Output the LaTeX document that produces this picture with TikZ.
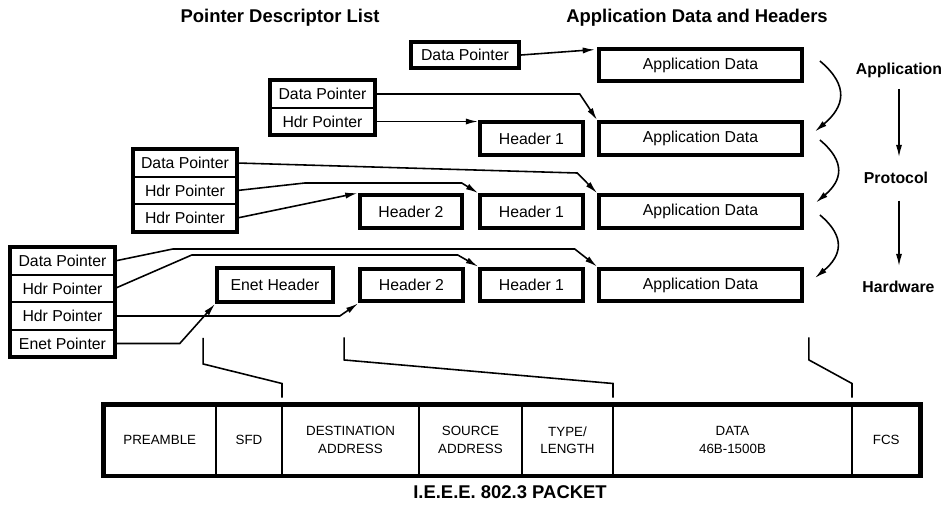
\documentclass[tikz,border=0pt]{standalone}
\usepackage{fontspec}
\setmainfont{Liberation Sans}
\usetikzlibrary{positioning,fit,calc,arrows.meta}

\begin{document}
\begin{tikzpicture}[
    box/.style={draw, line width=2.5pt, minimum height=0.65cm, inner sep=0pt,
      font=\fontsize{9}{11}\selectfont},
    ptrcell/.style={draw, line width=1.1pt, minimum width=2.09cm, minimum height=0.55cm,
      inner sep=0pt, outer sep=0pt, font=\fontsize{9}{11}\selectfont},
    listframe/.style={draw, line width=2.5pt, inner sep=0pt},
    pktfield/.style={draw, line width=1.3pt, minimum height=1.43cm, inner sep=0pt,
      outer sep=0pt, align=center, font=\fontsize{7.6}{10.2}\selectfont},
    heading/.style={font=\bfseries\fontsize{10.5}{12}\selectfont},
    layername/.style={font=\bfseries\fontsize{9}{11}\selectfont},
    ptr/.style={-{Latex[length=7pt,width=3.5pt]}, line width=0.9pt},
    brk/.style={line width=0.9pt}
  ]
  \useasboundingbox (0,0) rectangle (18.9,-10.12);

  \node[heading] (ttlptr) at (5.6,-0.36) {Pointer Descriptor List};
  \node[heading] (ttlapp) at (13.94,-0.36) {Application Data and Headers};

  \node[box, minimum width=2.15cm, minimum height=0.51cm] (dp1) at (9.3,-1.1) {Data Pointer};
  \node[box, minimum width=4.05cm] (app1) at (14.01,-1.3) {Application Data};

  \node[ptrcell] (p2d) at (6.45,-1.88) {Data Pointer};
  \node[ptrcell, below=0pt of p2d] (p2h) {Hdr Pointer};
  \node[listframe, fit=(p2d)(p2h)] (l2) {};
  \node[box, minimum width=2.05cm] (hdr1b) at (10.63,-2.77) {Header 1};
  \node[box, minimum width=4.05cm] (app2) at (14.01,-2.77) {Application Data};

  \node[ptrcell] (p3d) at (3.7,-3.26) {Data Pointer};
  \node[ptrcell, below=0pt of p3d] (p3h1) {Hdr Pointer};
  \node[ptrcell, below=0pt of p3h1] (p3h2) {Hdr Pointer};
  \node[listframe, fit=(p3d)(p3h2)] (l3) {};
  \node[box, minimum width=2.05cm] (hdr2c) at (8.22,-4.23) {Header 2};
  \node[box, minimum width=2.05cm] (hdr1c) at (10.63,-4.23) {Header 1};
  \node[box, minimum width=4.05cm] (app3) at (14.01,-4.23) {Application Data};

  \node[ptrcell] (p4d) at (1.25,-5.22) {Data Pointer};
  \node[ptrcell, below=0pt of p4d] (p4h1) {Hdr Pointer};
  \node[ptrcell, below=0pt of p4h1] (p4h2) {Hdr Pointer};
  \node[ptrcell, below=0pt of p4h2] (p4e) {Enet Pointer};
  \node[listframe, fit=(p4d)(p4e)] (l4) {};
  \node[box, minimum width=2.31cm, minimum height=0.67cm] (enet) at (5.5,-5.7) {Enet Header};
  \node[box, minimum width=2.05cm] (hdr2d) at (8.23,-5.7) {Header 2};
  \node[box, minimum width=2.05cm] (hdr1d) at (10.63,-5.7) {Header 1};
  \node[box, minimum width=4.05cm] (app4) at (14.01,-5.7) {Application Data};

  \node[layername] (lapp) at (17.98,-1.4) {Application};
  \node[layername] (lprot) at (17.92,-3.56) {Protocol};
  \node[layername] (lhw) at (17.97,-5.74) {Hardware};

  \node[pktfield, minimum width=2.25cm, anchor=west] (pre) at (2.07,-8.805) {PREAMBLE};
  \node[pktfield, minimum width=1.32cm, right=0pt of pre] (sfd) {SFD};
  \node[pktfield, minimum width=2.74cm, right=0pt of sfd] (dst) {DESTINATION\\ADDRESS};
  \node[pktfield, minimum width=2.06cm, right=0pt of dst] (src) {SOURCE\\ADDRESS};
  \node[pktfield, minimum width=1.82cm, right=0pt of src] (typ) {TYPE/\\LENGTH};
  \node[pktfield, minimum width=4.78cm, right=0pt of typ] (dat) {DATA\\46B-1500B};
  \node[pktfield, minimum width=1.37cm, right=0pt of dat] (fcs) {FCS};
  \node[listframe, fit=(pre)(fcs)] (pkt) {};
  \node[heading] (ttlpkt) at (10.2,-9.84) {I.E.E.E. 802.3 PACKET};

  \begin{scope}[ptr]
    \draw (dp1.east) -- ($(app1.north west)+(-0.04,-0.06)$);
    \draw (p2d.east) -- ++(4.1,0) -- (app2.north west);
    \draw (p2h.east) -- (p2h.east -| hdr1b.west);
    \draw (p3d.east) -- ++(6.8,-0.2) -- (app3.north west);
    \draw (p3h1.east) -- ++(1.35,0.15) -- ++(3.14,0) -- (hdr1c.north west);
    \draw (p3h2.east) -- (hdr2c.north west);
    \draw (p4d.east) -- ++(1.16,0.24) -- ++(8.04,0) -- (app4.north west);
    \draw (p4h1.east) -- ++(1.54,0.67) -- ++(5.32,0) -- (hdr1d.north west);
    \draw (p4h2.east) -- ++(4.5,0) -- (hdr2d.south west);
    \draw (p4e.east) -- ++(1.3,0) -- (enet.south west);
    \draw ($(app1.east)+(0.32,0.08)$) to[out=-40,in=40,looseness=1.4] ($(app2.east)+(0.22,0.14)$);
    \draw ($(app2.east)+(0.32,-0.03)$) to[out=-40,in=40,looseness=1.4] ($(app3.east)+(0.24,0.18)$);
    \draw ($(app3.east)+(0.32,-0.07)$) to[out=-40,in=40,looseness=1.4] ($(app4.east)+(0.22,0.14)$);
    \draw[shorten <=3pt, shorten >=5pt] (lapp) -- (lapp |- lprot.north);
    \draw[shorten <=6pt, shorten >=5pt] (lapp |- lprot.south) -- (lapp |- lhw.north);
  \end{scope}

  \begin{scope}[brk]
    \draw ($(enet.south west)+(-0.24,-0.68)$) -- ++(0,-0.52)
      -- ($(sfd.north east)+(0,0.42)$) -- ($(sfd.north east)+(0,0.14)$);
    \draw ($(hdr2d.south west)+(-0.28,-0.68)$) -- ++(0,-0.45)
      -- ($(typ.north east)+(0,0.42)$) -- ($(typ.north east)+(0,0.14)$);
    \draw ($(app4.south east)+(0.1,-0.68)$) -- ++(0,-0.45)
      -- ($(dat.north east)+(0,0.42)$) -- ($(dat.north east)+(0,0.14)$);
  \end{scope}
\end{tikzpicture}
\end{document}
